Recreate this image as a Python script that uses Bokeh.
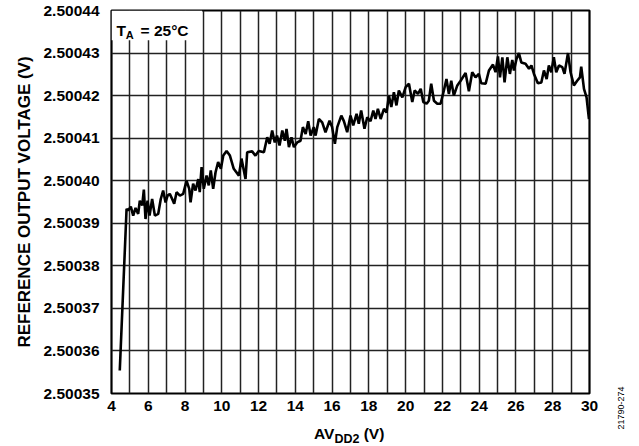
from bokeh.plotting import figure
from bokeh.models import Range1d, FixedTicker, NumeralTickFormatter, Label, Div
from bokeh.layouts import row, column
from bokeh.embed import file_html
from bokeh.resources import INLINE

# ---- data ----
avdd2 = [4.45, 4.82, 4.90, 5.05, 5.18, 5.31, 5.45, 5.54, 5.67, 5.76, 5.85, 5.96,
         6.07, 6.21, 6.36, 6.54, 6.68, 6.81, 6.94, 7.05, 7.17, 7.30, 7.41, 7.54,
         7.72, 7.90, 8.08, 8.23, 8.30, 8.44, 8.57, 8.72, 8.80, 8.90, 9.02, 9.17,
         9.29, 9.40, 9.53, 9.66, 9.80, 9.95, 10.08, 10.26, 10.44, 10.65, 10.93,
         11.07, 11.29, 11.38, 11.65, 11.83, 12.01, 12.29, 12.47, 12.60, 12.74,
         12.88, 13.00, 13.14, 13.29, 13.43, 13.52, 13.65, 13.79, 13.92, 14.10,
         14.28, 14.41, 14.56, 14.70, 14.83, 15.00, 15.10, 15.28, 15.46, 15.64,
         15.86, 16.00, 16.15, 16.28, 16.50, 16.64, 16.82, 17.00, 17.15, 17.33,
         17.45, 17.58, 17.76, 17.91, 18.09, 18.24, 18.36, 18.49, 18.64, 18.82,
         18.96, 19.09, 19.22, 19.36, 19.50, 19.63, 19.82, 20.00, 20.18, 20.36,
         20.49, 20.67, 20.82, 20.96, 21.14, 21.26, 21.39, 21.54, 21.72, 21.90,
         22.08, 22.22, 22.35, 22.48, 22.62, 22.81, 22.99, 23.26, 23.44, 23.62,
         23.80, 23.98, 24.11, 24.35, 24.53, 24.75, 24.89, 25.02, 25.13, 25.26,
         25.38, 25.53, 25.67, 25.80, 25.89, 26.03, 26.16, 26.29, 26.52, 26.71,
         26.84, 26.98, 27.19, 27.38, 27.52, 27.67, 27.79, 27.92, 28.06, 28.19,
         28.34, 28.52, 28.64, 28.83, 28.97, 29.15, 29.33, 29.48, 29.55, 29.70,
         29.84, 29.97]

vref = [2.5003554, 2.5003934, 2.5003930, 2.5003939, 2.5003918, 2.5003936,
        2.5003922, 2.5003953, 2.5003942, 2.5003979, 2.5003910, 2.5003953,
        2.5003918, 2.5003957, 2.5003918, 2.5003922, 2.5003957, 2.5003977,
        2.5003949, 2.5003965, 2.5003969, 2.5003957, 2.5003946, 2.5003973,
        2.5003965, 2.5003969, 2.5004000, 2.5003981, 2.5003949, 2.5003993,
        2.5003977, 2.5004004, 2.5003973, 2.5004032, 2.5003981, 2.5004012,
        2.5003989, 2.5004024, 2.5003981, 2.5004020, 2.5004044, 2.5004028,
        2.5004059, 2.5004070, 2.5004059, 2.5004028, 2.5004012, 2.5004052,
        2.5004004, 2.5004067, 2.5004069, 2.5004059, 2.5004070, 2.5004067,
        2.5004102, 2.5004087, 2.5004118, 2.5004090, 2.5004106, 2.5004083,
        2.5004118, 2.5004094, 2.5004122, 2.5004079, 2.5004102, 2.5004079,
        2.5004090, 2.5004094, 2.5004126, 2.5004110, 2.5004140, 2.5004106,
        2.5004126, 2.5004106, 2.5004145, 2.5004137, 2.5004114, 2.5004141,
        2.5004126, 2.5004087, 2.5004126, 2.5004153, 2.5004140, 2.5004114,
        2.5004153, 2.5004130, 2.5004157, 2.5004134, 2.5004165, 2.5004122,
        2.5004149, 2.5004140, 2.5004165, 2.5004145, 2.5004169, 2.5004145,
        2.5004169, 2.5004160, 2.5004200, 2.5004173, 2.5004208, 2.5004177,
        2.5004212, 2.5004196, 2.5004220, 2.5004228, 2.5004185, 2.5004212,
        2.5004204, 2.5004216, 2.5004185, 2.5004181, 2.5004188, 2.5004228,
        2.5004188, 2.5004181, 2.5004181, 2.5004212, 2.5004239, 2.5004204,
        2.5004235, 2.5004200, 2.5004224, 2.5004235, 2.5004253, 2.5004210,
        2.5004255, 2.5004243, 2.5004251, 2.5004229, 2.5004228, 2.5004259,
        2.5004273, 2.5004255, 2.5004292, 2.5004243, 2.5004290, 2.5004231,
        2.5004290, 2.5004251, 2.5004284, 2.5004259, 2.5004286, 2.5004300,
        2.5004278, 2.5004275, 2.5004263, 2.5004271, 2.5004251, 2.5004229,
        2.5004231, 2.5004259, 2.5004239, 2.5004271, 2.5004255, 2.5004290,
        2.5004255, 2.5004271, 2.5004267, 2.5004251, 2.5004300, 2.5004255,
        2.5004224, 2.5004235, 2.5004243, 2.5004268, 2.5004216, 2.5004196,
        2.5004145]

x_ticks = [4, 6, 8, 10, 12, 14, 16, 18, 20, 22, 24, 26, 28, 30]
x_grid = [5, 6, 7, 8, 9, 10, 11, 12, 13, 14, 15, 16, 17, 18, 19, 20, 21, 22,
          23, 24, 25, 26, 27, 28, 29]
y_ticks = [2.50035, 2.50036, 2.50037, 2.50038, 2.50039, 2.50040, 2.50041,
           2.50042, 2.50043, 2.50044]

FONT = "Liberation Sans"

fig = figure(width=605, height=420, output_backend="svg", toolbar_location=None,
             x_range=Range1d(4, 30), y_range=Range1d(2.50035, 2.50044),
             min_border_left=111, min_border_right=16, min_border_top=10,
             min_border_bottom=27)

fig.background_fill_color = "white"
fig.border_fill_color = "white"
fig.outline_line_color = "black"
fig.outline_line_width = 2.2

# grids
fig.xgrid.ticker = FixedTicker(ticks=x_grid)
fig.ygrid.ticker = FixedTicker(ticks=y_ticks)
for g in (fig.xgrid, fig.ygrid):
    g.grid_line_color = "#222222"
    g.grid_line_width = 1.5
    g.grid_line_alpha = 1.0

# axes
fig.xaxis.ticker = FixedTicker(ticks=x_ticks)
fig.yaxis.ticker = FixedTicker(ticks=y_ticks)
fig.yaxis.formatter = NumeralTickFormatter(format="0.00000")
for ax in (fig.xaxis, fig.yaxis):
    ax.axis_line_color = None
    ax.major_tick_line_color = None
    ax.minor_tick_line_color = None
    ax.major_tick_out = 0
    ax.major_tick_in = 0
    ax.major_label_text_font = FONT
    ax.major_label_text_font_style = "bold"
    ax.major_label_text_font_size = "15.5px"
    ax.major_label_text_color = "black"
fig.xaxis.major_label_standoff = 7
fig.yaxis.major_label_standoff = 12
fig.yaxis.axis_label = "REFERENCE OUTPUT VOLTAGE (V)"
fig.yaxis.axis_label_text_font = FONT
fig.yaxis.axis_label_text_font_style = "bold"
fig.yaxis.axis_label_text_font_size = "17px"
fig.yaxis.axis_label_text_color = "black"
fig.yaxis.axis_label_standoff = 6

# white box behind the T_A note (hides grid)
fig.quad(left=[4], right=[8.93], bottom=[2.500433], top=[2.50044],
         fill_color="white", line_color=None)

# data line
fig.line(avdd2, vref, line_color="black", line_width=2.6)


def lab(x, y, text, size):
    fig.add_layout(Label(x=x, y=y, text=text, text_font=FONT,
                         text_font_style="bold", text_font_size=size,
                         text_color="black", text_baseline="alphabetic",
                         text_align="left"))


# T_A = 25°C note
lab(4.27, 2.5004354, "T", "15.5px")
lab(4.78, 2.5004343, "A", "11px")
lab(5.58, 2.5004354, "= 25°C", "15.5px")

# figure code at the right, rotated
code_div = Div(width=30, height=420, margin=0, text=(
    '<div style="position:relative;width:30px;height:420px;">'
    '<div style="position:absolute;left:16px;top:408px;'
    'transform:translate(-50%,-50%) rotate(-90deg);white-space:nowrap;'
    "font-family:'Liberation Sans';font-size:9px;color:black;\">21790-274</div>"
    '</div>'))

# x axis label AV_DD2 (V)
xlab_div = Div(width=635, height=24, margin=0, text=(
    '<div style="position:relative;width:635px;height:24px;">'
    '<div style="position:absolute;left:314px;top:5px;white-space:nowrap;'
    "font-family:'Liberation Sans';font-weight:bold;font-size:15.5px;"
    'line-height:18px;color:black;">AV<span style="font-size:12.5px;'
    'position:relative;top:4px;">DD2</span> (V)</div>'
    '</div>'))

p = column(row(fig, code_div, spacing=0), xlab_div, spacing=0)

open("out.html", "w").write(file_html(p, INLINE))
